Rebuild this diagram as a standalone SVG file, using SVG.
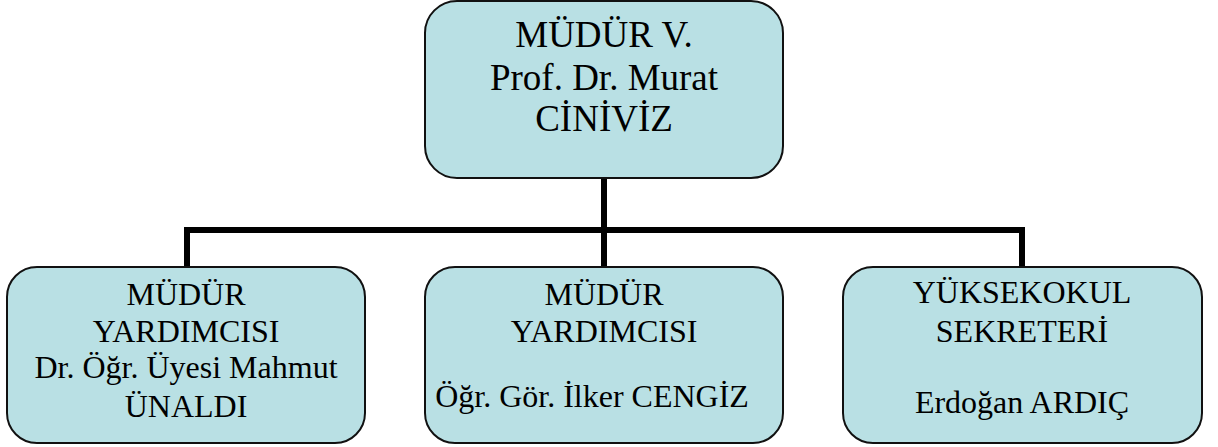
<svg xmlns="http://www.w3.org/2000/svg" width="1218" height="447" viewBox="0 0 1218 447">
<style>
.box{fill:#B9E0E4;stroke:#111;stroke-width:2}
.t{font-family:"Liberation Serif","Times New Roman",serif;fill:#000;text-anchor:middle}
.big{font-size:37px}
.sm{font-size:32px}
.conn{fill:none;stroke:#000;stroke-width:6;stroke-linejoin:miter;stroke-linecap:butt}
</style>
<rect width="1218" height="447" fill="#fff"/>
<g id="connectors">
<path class="conn" d="M604 178 V230"/>
<path class="conn" d="M187 267 V230 H1022 V267"/>
<path class="conn" d="M604 230 V267"/>
</g>
<g id="node-mudur">
<rect class="box" x="425" y="1" width="358" height="177" rx="32" ry="32"/>
<text class="t big" x="604" y="47">MÜDÜR V.</text>
<text class="t big" x="604" y="90">Prof. Dr. Murat</text>
<text class="t big" x="604" y="131">CİNİVİZ</text>
</g>
<g id="node-yardimci1">
<rect class="box" x="7" y="267" width="358" height="176" rx="30" ry="30"/>
<text class="t sm" x="186" y="305">MÜDÜR</text>
<text class="t sm" x="186" y="342">YARDIMCISI</text>
<text class="t sm" x="186" y="378">Dr. Öğr. Üyesi Mahmut</text>
<text class="t sm" x="186" y="417">ÜNALDI</text>
</g>
<g id="node-yardimci2">
<rect class="box" x="425" y="267" width="358" height="176" rx="30" ry="30"/>
<text class="t sm" x="604" y="305">MÜDÜR</text>
<text class="t sm" x="604" y="342">YARDIMCISI</text>
<text class="t sm" x="592" y="407">Öğr. Gör. İlker CENGİZ</text>
</g>
<g id="node-sekreter">
<rect class="box" x="843" y="267" width="359" height="176" rx="30" ry="30"/>
<text class="t sm" x="1022" y="303">YÜKSEKOKUL</text>
<text class="t sm" x="1022" y="342">SEKRETERİ</text>
<text class="t sm" x="1022" y="413">Erdoğan ARDIÇ</text>
</g>
</svg>
